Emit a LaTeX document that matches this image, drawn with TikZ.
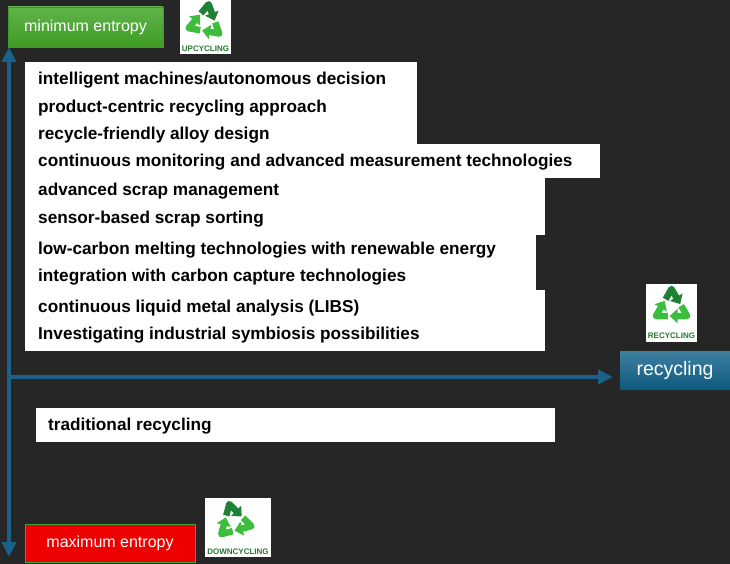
\documentclass[tikz,border=0pt]{standalone}
\usepackage{fontspec}
\setmainfont{Liberation Sans}
\usetikzlibrary{arrows.meta,calc,positioning}
\definecolor{bgdark}{RGB}{38,38,38}
\definecolor{axisblue}{RGB}{26,98,138}
\definecolor{recdark}{RGB}{30,130,52}
\definecolor{reclight}{RGB}{60,190,60}
\definecolor{captiongreen}{RGB}{40,120,50}
\definecolor{mingreentop}{RGB}{96,180,74}
\definecolor{mingreenbot}{RGB}{62,155,36}
\definecolor{recbluetop}{RGB}{62,128,160}
\definecolor{recbluebot}{RGB}{14,90,128}
\definecolor{maxred}{RGB}{238,0,0}
\definecolor{maxborder}{RGB}{58,165,58}

\begin{document}
\begin{tikzpicture}[x=1pt,y=-1pt,
    whitebox/.style={fill=white,inner sep=0pt,anchor=north west},
    item/.style={anchor=base west,inner sep=0pt,text=black,
      font=\fontsize{17.2}{19}\selectfont\bfseries},
    entropy/.style={inner sep=0pt,text=white,font=\fontsize{16}{18}\selectfont},
    icon/.style={fill=white,inner sep=0pt},
    caption/.style={inner sep=0pt,text=captiongreen,font=\fontsize{8}{9}\selectfont\bfseries},
    axis/.style={axisblue,line width=4.5pt},
    recyclesign/.pic={
      \foreach \a/\col in {270/recdark,30/reclight,150/reclight}{
        \draw[line width=6.5pt,\col,line join=round,
          -{Triangle[length=8pt,width=14pt]}]
          ($(\a-120:18)!0.62!(\a:18)$) -- (\a:18) -- ($(\a:18)!0.56!(\a+120:18)$);
      }
    }]
    \fill[bgdark] (0,0) rectangle (730,564);

    % boxes of measures
    \node[whitebox,minimum width=392pt,minimum height=82pt] (box1) at (25,62) {};
    \node[whitebox,minimum width=575pt,minimum height=34pt] (box2) at (25,144) {};
    \node[whitebox,minimum width=520pt,minimum height=57pt] (box3) at (25,178) {};
    \node[whitebox,minimum width=511pt,minimum height=55pt] (box4) at (25,235) {};
    \node[whitebox,minimum width=520pt,minimum height=61pt] (box5) at (25,290) {};
    \node[whitebox,minimum width=519pt,minimum height=34pt] (tradbox) at (36,408) {};

    \node[item] (intel) at (38,85) {intelligent machines/autonomous decision};
    \node[item] (product) at (38,113) {product-centric recycling approach};
    \node[item] (alloy) at (38,140) {recycle-friendly alloy design};
    \node[item] (monitor) at (38,167) {continuous monitoring and advanced measurement technologies};
    \node[item] (scrap) at (38,196) {advanced scrap management};
    \node[item] (sensor) at (38,223) {sensor-based scrap sorting};
    \node[item] (melt) at (38,254) {low-carbon melting technologies with renewable energy};
    \node[item] (capture) at (38,281) {integration with carbon capture technologies};
    \node[item] (libs) at (38,312) {continuous liquid metal analysis (LIBS)};
    \node[item] (symb) at (38,339) {Investigating industrial symbiosis possibilities};
    \node[item] (trad) at (48,430) {traditional recycling};

    % axes
    \coordinate (top) at (9,47);
    \coordinate (bottom) at (9,557);
    \coordinate (origin) at (9,377);
    \coordinate (right) at (613,377);
    \draw[axis,{Triangle[length=15pt,width=14pt]}-{Triangle[length=15pt,width=14pt]}] (top) -- (bottom);
    \draw[axis,-{Triangle[length=15pt,width=14pt]}] (origin) -- (right);

    % labels
    \node[entropy,draw=mingreenbot,top color=mingreentop,bottom color=mingreenbot,
      minimum width=155pt,minimum height=40pt] (minent) at (85.5,27) {minimum entropy};
    \node[entropy,fill=maxred,draw=maxborder,line width=1pt,
      minimum width=170pt,minimum height=38pt] (maxent) at (110,543) {maximum entropy};
    \node[entropy,top color=recbluetop,bottom color=recbluebot,
      minimum width=110pt,minimum height=38pt,font=\fontsize{19.5}{21}\selectfont] (recyc) at (675,370) {recycling};

    % icons
    \node[icon,minimum width=51pt,minimum height=54pt] (upicon) at (205.5,27) {};
    \pic[rotate=-10] at ($(upicon.center)+(0,-5)$) {recyclesign};
    \node[caption] (upcap) at ($(upicon.south)+(0,-5)$) {UPCYCLING};

    \node[icon,minimum width=51pt,minimum height=58pt] (recicon) at (671.5,313) {};
    \pic at ($(recicon.center)+(0,-6)$) {recyclesign};
    \node[caption] (reccap) at ($(recicon.south)+(0,-6)$) {RECYCLING};

    \node[icon,minimum width=66pt,minimum height=59pt] (downicon) at (238,527.5) {};
    \pic[rotate=15] at ($(downicon.center)+(-4,-6)$) {recyclesign};
    \node[caption] (downcap) at ($(downicon.south)+(0,-5)$) {DOWNCYCLING};

\end{tikzpicture}
\end{document}
